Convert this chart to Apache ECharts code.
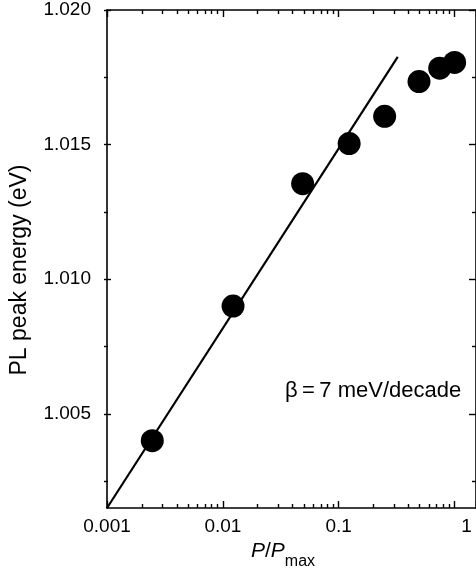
<!DOCTYPE html>
<html><head><meta charset="utf-8">
<script src="https://cdn.jsdelivr.net/npm/echarts@6/dist/echarts.min.js"></script>
<style>html,body{margin:0;padding:0;background:#fff}#c{width:476px;height:575px}</style>
</head><body><div id="c"></div>
<script>
// ---- data ----
const powerRatio = [0.00246, 0.01224, 0.0488, 0.123, 0.249, 0.493, 0.744, 1.0];
const peakEnergy = [1.0040, 1.0090, 1.01355, 1.01504, 1.01605, 1.01734, 1.01784, 1.01805];
const fitX = [0.001, 0.323];
const fitY = [1.0015, 1.01826];
const xTickLabels = [0.001, 0.01, 0.1, 1];
const yMajorRange = [1.005, 1.020];   // major y ticks every 0.005
const yMinorRange = [1.0025, 1.0175]; // minor y ticks every 0.005
const yTickStep = 0.005;
const annotationText = 'β\u2009=\u20097 meV/decade';
const xTitle = '{i|P}{n|/}{i|P}{s|max}';
const yTitle = 'PL peak energy (eV)';

// ---- chart ----
const FONT = 'Liberation Sans, Arial, Helvetica, sans-serif';
const X_MIN = 0.001, X_MAX = 1.53, Y_MIN = 1.0015, Y_MAX = 1.020;
const G_LEFT = 104, G_TOP = 10, G_W = 375, G_H = 498;
const pxPerUnit = G_H / (Y_MAX - Y_MIN);
const axisLineStyle = { color: '#000', width: 1.6 };
const tickLine = { color: '#000', width: 1.4 };

const grids = [
  { left: G_LEFT, top: G_TOP, width: G_W, height: G_H },
  { left: G_LEFT, top: G_TOP + (Y_MAX - yMajorRange[1]) * pxPerUnit, width: G_W,
    height: (yMajorRange[1] - yMajorRange[0]) * pxPerUnit },
  { left: G_LEFT, top: G_TOP + (Y_MAX - yMinorRange[1]) * pxPerUnit, width: G_W,
    height: (yMinorRange[1] - yMinorRange[0]) * pxPerUnit }
];

function logX(pos, withLabels) {
  return {
    type: 'log', logBase: 10, min: X_MIN, max: X_MAX, position: pos, gridIndex: 0,
    axisLine: { show: true, onZero: false, lineStyle: axisLineStyle },
    axisTick: { show: true, inside: true, length: 7, lineStyle: tickLine },
    minorTick: { show: true, splitNumber: 9, length: 4, lineStyle: tickLine },
    axisLabel: withLabels ? {
      show: true, customValues: xTickLabels, margin: 9, color: '#000',
      fontFamily: FONT, fontSize: 19,
      formatter: v => v === 1 ? '{r|1}' : String(v),
      rich: { r: { fontFamily: FONT, fontSize: 19, color: '#000', padding: [0, 0, 0, 24] } }
    } : { show: false },
    splitLine: { show: false }, minorSplitLine: { show: false }
  };
}
const xs = [
  logX('bottom', true),
  logX('top', false),
  { type: 'value', gridIndex: 1, show: false },
  { type: 'value', gridIndex: 2, show: false }
];
xs[0].name = xTitle;
xs[0].nameLocation = 'middle';
xs[0].nameGap = 30;
xs[0].nameTextStyle = {
  padding: [0, 17, 0, 0],
  rich: {
    i: { fontFamily: FONT, fontSize: 21, fontStyle: 'italic', color: '#000', lineHeight: 22, verticalAlign: 'top' },
    n: { fontFamily: FONT, fontSize: 21, color: '#000', lineHeight: 22, verticalAlign: 'top' },
    s: { fontFamily: FONT, fontSize: 16, color: '#000', lineHeight: 29, verticalAlign: 'bottom' }
  }
};

function frameY(pos) {
  return {
    type: 'value', min: Y_MIN, max: Y_MAX, position: pos, gridIndex: 0,
    axisLine: { show: true, onZero: false, lineStyle: axisLineStyle },
    axisTick: { show: false }, axisLabel: { show: false }, splitLine: { show: false }
  };
}
function tickY(pos, grid, range, len, withLabels) {
  return {
    type: 'value', min: range[0], max: range[1], interval: yTickStep, position: pos, gridIndex: grid,
    axisLine: { show: false, onZero: false },
    axisTick: { show: true, inside: true, length: len, lineStyle: tickLine },
    axisLabel: withLabels ? {
      show: true, margin: 13, color: '#000', fontFamily: FONT, fontSize: 19,
      formatter: v => v.toFixed(3)
    } : { show: false },
    splitLine: { show: false }
  };
}
const ys = [
  frameY('left'), frameY('right'),
  tickY('left', 1, yMajorRange, 7, true), tickY('right', 1, yMajorRange, 7, false),
  tickY('left', 2, yMinorRange, 4, false), tickY('right', 2, yMinorRange, 4, false)
];
ys[0].name = yTitle;
ys[0].nameLocation = 'middle';
ys[0].nameGap = 76;
ys[0].nameTextStyle = { fontFamily: FONT, fontSize: 23, color: '#000', padding: [0, 22, 0, 0] };

const chart = echarts.init(document.getElementById('c'), null, { renderer: 'canvas' });
chart.setOption({
  animation: false,
  backgroundColor: '#fff',
  grid: grids,
  xAxis: xs,
  yAxis: ys,
  graphic: [{
    type: 'text', left: 285, top: 380, silent: true,
    style: { text: annotationText, fontFamily: FONT, fontSize: 22, fill: '#000' }
  }],
  series: [
    {
      type: 'line', xAxisIndex: 0, yAxisIndex: 0,
      data: fitX.map((x, i) => [x, fitY[i]]),
      symbol: 'none', lineStyle: { color: '#000', width: 2.2 }, z: 2
    },
    {
      type: 'scatter', xAxisIndex: 0, yAxisIndex: 0,
      data: powerRatio.map((x, i) => [x, peakEnergy[i]]),
      symbol: 'circle', symbolSize: 23, itemStyle: { color: '#000', opacity: 1 }, z: 3
    }
  ]
});
</script>
</body></html>
